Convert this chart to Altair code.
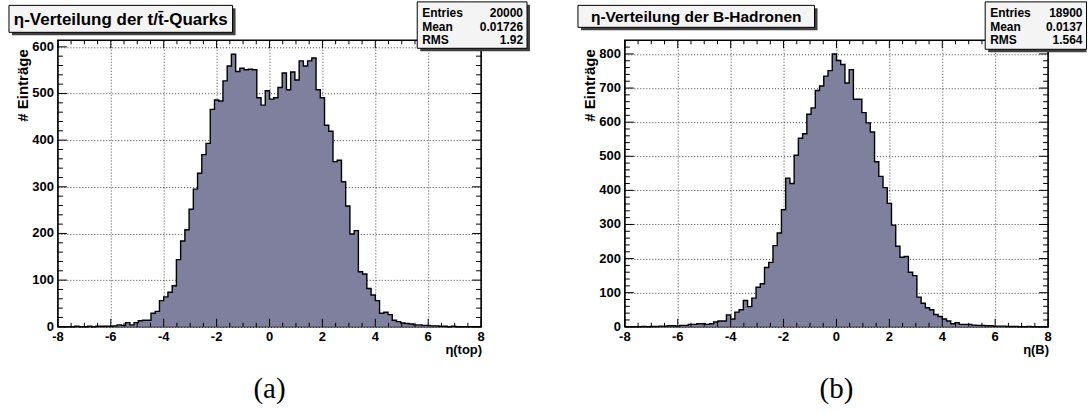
import altair as alt
import pandas as pd

# ---------------- data ----------------
ETA_MIN, ETA_MAX, N_BINS = -8.0, 8.0, 100

top_counts = [
    0, 0, 0, 0, 1, 0, 0, 1, 0, 1,
    1, 1, 1, 2, 4, 3, 9, 4, 9, 13,
    14, 14, 29, 33, 56, 64, 74, 88, 144, 184,
    208, 252, 295, 329, 369, 393, 466, 486, 484, 527,
    559, 584, 547, 554, 551, 552, 551, 491, 475, 506,
    488, 491, 513, 544, 508, 546, 529, 570, 559, 570,
    576, 508, 491, 432, 419, 354, 357, 311, 259, 199,
    206, 118, 113, 82, 68, 56, 29, 31, 26, 14,
    11, 8, 7, 6, 4, 4, 3, 3, 2, 2,
    1, 1, 0, 1, 0, 0, 0, 0, 0, 0,
]

b_counts = [
    0, 0, 0, 0, 1, 0, 1, 1, 2, 2,
    3, 3, 2, 4, 4, 7, 7, 9, 9, 7,
    9, 14, 17, 17, 35, 23, 43, 50, 77, 59,
    84, 116, 126, 174, 189, 238, 275, 343, 436, 420,
    503, 553, 566, 623, 642, 693, 706, 735, 751, 800,
    781, 769, 715, 754, 667, 667, 628, 598, 571, 484,
    441, 408, 362, 298, 236, 204, 206, 160, 150, 87,
    69, 56, 50, 36, 30, 23, 17, 9, 12, 7,
    7, 7, 5, 4, 4, 3, 3, 2, 2, 2,
    1, 1, 1, 0, 0, 1, 0, 0, 0, 0,
]

x_major = [-8, -6, -4, -2, 0, 2, 4, 6, 8]
x_minor = [v * 0.5 for v in range(-16, 17) if v % 4 != 0]

top_y_major = [0, 100, 200, 300, 400, 500, 600]
b_y_major = [0, 100, 200, 300, 400, 500, 600, 700, 800]

top_title = "η-Verteilung der t/t\u0304-Quarks"
b_title = "η-Verteilung der B-Hadronen"
stat_names = ["Entries", "Mean", "RMS"]
top_stats = ["20000", "0.01726", "1.92"]
b_stats = ["18900", "0.0137", "1.564"]
y_title = "# Einträge"
top_xlabel = "η(top)"
b_xlabel = "η(B)"

# ---------------- style ----------------
W, H = 424, 287
FILL = "#7f7f9e"
SANS = "Liberation Sans"
SERIF = "Liberation Serif"


def single():
    return alt.Chart(pd.DataFrame({"k": [0]}))


def rect(x1, y1, x2, y2, **kw):
    return single().mark_rect(**kw).encode(
        x=alt.value(x1), x2=alt.value(x2), y=alt.value(y1), y2=alt.value(y2)
    )


def text(txt, x, y, **kw):
    props = dict(font=SANS, fontWeight="bold", fontSize=12, color="black",
                 baseline="middle", align="left")
    props.update(kw)
    return single().mark_text(text=txt, **props).encode(x=alt.value(x), y=alt.value(y))


def panel(counts, ymax, y_major, title, tbox, tsize, svals, sbox, right_shadow,
          xlabel, caption, extra=None):
    bw = (ETA_MAX - ETA_MIN) / N_BINS
    df = pd.DataFrame({
        "eta": [ETA_MIN + i * bw for i in range(N_BINS + 1)],
        "n": list(counts) + [counts[-1]],
    })
    xs = alt.Scale(domain=[ETA_MIN, ETA_MAX], nice=False, zero=False)
    ys = alt.Scale(domain=[0, ymax], nice=False, zero=False)
    y_minor = [v for v in range(0, ymax, 20) if v % 100 != 0]

    common = dict(ticks=False, tickSize=0, domain=False, grid=True, labels=False,
                  gridDash=[1, 2], gridColor="#000000", gridOpacity=0.75, gridWidth=1,
                  title=None)
    xaxis = alt.Axis(values=x_major, **common)
    yaxis = alt.Axis(values=y_major, **common)
    X = lambda: alt.X("eta:Q", scale=xs, axis=xaxis)
    Y = lambda: alt.Y("n:Q", scale=ys, axis=yaxis)

    hist = alt.Chart(df).mark_area(interpolate="step-after", color=FILL).encode(x=X(), y=Y())
    outline = alt.Chart(df).mark_line(interpolate="step-after", color="black",
                                      strokeWidth=1.4).encode(x=X(), y=Y())

    layers = []
    if extra is not None:
        layers.append(extra)
    layers += [hist, outline]

    def xt(vals, ln):
        c = alt.Chart(pd.DataFrame({"eta": vals}))
        return [
            c.mark_rule(color="black", strokeWidth=1).encode(x=X(), y=alt.value(H), y2=alt.value(H - ln)),
            c.mark_rule(color="black", strokeWidth=1).encode(x=X(), y=alt.value(0), y2=alt.value(ln)),
        ]

    def yt(vals, ln):
        c = alt.Chart(pd.DataFrame({"n": vals}))
        return [
            c.mark_rule(color="black", strokeWidth=1).encode(y=Y(), x=alt.value(0), x2=alt.value(ln)),
            c.mark_rule(color="black", strokeWidth=1).encode(y=Y(), x=alt.value(W), x2=alt.value(W - ln)),
        ]

    layers += xt(x_major, 8) + xt(x_minor, 4) + yt(y_major, 9) + yt(y_minor, 5)

    # tick labels (bold, ROOT style)
    xl = pd.DataFrame({"eta": x_major, "lab": [str(v) for v in x_major]})
    layers.append(alt.Chart(xl).mark_text(font=SANS, fontWeight="bold", fontSize=13, color="black",
                                          baseline="middle", align="center").encode(
        x=X(), y=alt.value(H + 10), text="lab:N"))
    yl = pd.DataFrame({"n": y_major, "lab": [str(v) for v in y_major]})
    layers.append(alt.Chart(yl).mark_text(font=SANS, fontWeight="bold", fontSize=13, color="black",
                                          baseline="middle", align="right").encode(
        y=Y(), x=alt.value(-4), text="lab:N"))

    # title box with shadow
    tx1, ty1, tx2, ty2 = tbox
    layers.append(rect(tx1 + 3, ty1 + 3, tx2 + 3, ty2 + 3, color="#404040"))
    layers.append(rect(tx1, ty1, tx2, ty2, fill="#f4f4f4", stroke="black", strokeWidth=1))
    layers.append(text(title, (tx1 + tx2) / 2, (ty1 + ty2) / 2 + 1, fontSize=tsize, align="center"))

    # stats box
    sx1, sy1, sx2, sy2 = sbox
    layers.append(rect(sx1 + 3, sy1 + 3, sx2 + (3 if right_shadow else 0), sy2 + 3, color="#404040"))
    layers.append(rect(sx1, sy1, sx2, sy2, fill="#f4f4f4", stroke="black", strokeWidth=1))
    row_y = [sy1 + 11.5, sy1 + 25, sy1 + 38.5]
    for name, val, ry in zip(stat_names, svals, row_y):
        layers.append(text(name, sx1 + 5, ry, fontSize=12))
        layers.append(text(val, sx2 - 4, ry, fontSize=12, align="right"))

    # axis titles
    layers.append(text(y_title, -35, 9, fontSize=15, angle=270, align="right"))
    layers.append(text(xlabel, W + 1, 310, fontSize=13, align="right"))

    # caption
    layers.append(text(caption, W / 2, 349, font=SERIF, fontWeight="normal", fontSize=29, align="center"))

    return alt.layer(*layers).properties(width=W, height=H)


# invisible rectangle that spans the whole 1088x414 page (panel 1 plot origin is at 57,39)
page = rect(-57, -39, 1031, 375, opacity=0)

left = panel(top_counts, 614, top_y_major, top_title, (-49, -35, 175, -8), 17,
             top_stats, (360, -38.5, 470, 8), True, top_xlabel, "(a)", extra=page)
right = panel(b_counts, 840, b_y_major, b_title, (-47, -35, 190, -13), 15.5,
              b_stats, (361, -38.5, 462.5, 9), False, b_xlabel, "(b)")

chart = alt.hconcat(left, right, spacing=144, bounds="flush").properties(
    padding=0, background="white"
).configure_view(stroke="black", strokeWidth=1.6)

chart.save("out.html", embed_options={"renderer": "svg", "actions": False})
